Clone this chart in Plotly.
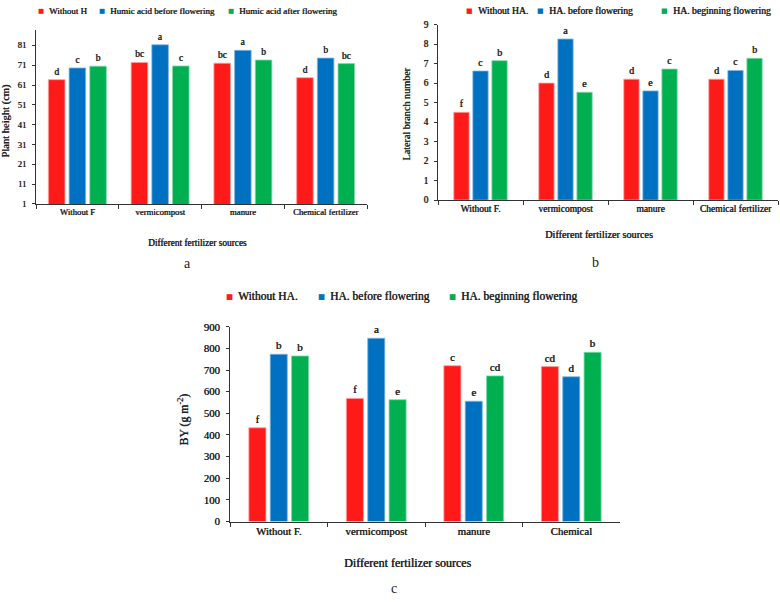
import plotly.graph_objects as go

# ---------------- data ----------------
categories_a = ["Without F", "vermicompost", "manure", "Chemical fertilizer"]
categories_b = ["Without F.", "vermicompost", "manure", "Chemical fertilizer"]
categories_c = ["Without F.", "vermicompost", "manure", "Chemical"]

series_a = ["Without H", "Humic acid before flowering", "Humic acid after flowering"]
series_bc = ["Without HA.", "HA. before flowering", "HA. beginning flowering"]

height_without = [63.7, 72.4, 72.0, 64.7]
height_before = [69.6, 81.3, 78.5, 74.6]
height_after = [70.5, 70.6, 73.6, 71.8]
height_letters = [["d", "bc", "bc", "d"], ["c", "a", "a", "b"], ["b", "c", "b", "bc"]]

branch_without = [4.5, 6.0, 6.2, 6.2]
branch_before = [6.62, 8.26, 5.6, 6.65]
branch_begin = [7.15, 5.53, 6.72, 7.27]
branch_letters = [["f", "d", "d", "d"], ["c", "a", "e", "c"], ["b", "e", "c", "b"]]

by_without = [433, 569, 720, 716]
by_before = [773, 847, 556, 669]
by_begin = [765, 563, 673, 782]
by_letters = [["f", "f", "c", "cd"], ["b", "a", "e", "d"], ["b", "e", "cd", "b"]]

a_ticks = [1, 11, 21, 31, 41, 51, 61, 71, 81]

colors = ["#FF1A1A", "#0070C0", "#00B050"]
edge = ["#FF9C9C", "#7FB5E0", "#7FD8A8"]

FONT = "Liberation Serif, Times New Roman, serif"
INK = "#222"
# heavier strokes for a bold Times look
BOLD_SHADOW = "0.45px 0px 0px #222"
W, H = 780, 602


def px(x):
    return x / W


def py(y):
    return 1 - y / H


def bfont(size, color=INK):
    return dict(family=FONT, size=size, color=color, shadow=BOLD_SHADOW)


fig = go.Figure()

panels = [
    dict(cats=categories_a, vals=[height_without, height_before, height_after],
         letters=height_letters, xa="x", ya="y", slot=0.25, width=0.2, tf=9.5),
    dict(cats=categories_b, vals=[branch_without, branch_before, branch_begin],
         letters=branch_letters, xa="x2", ya="y2", slot=0.224, width=0.18, tf=10),
    dict(cats=categories_c, vals=[by_without, by_before, by_begin],
         letters=by_letters, xa="x3", ya="y3", slot=0.219, width=0.175, tf=11),
]

for p in panels:
    for i in range(3):
        fig.add_trace(go.Bar(
            x=p["cats"], y=p["vals"][i], xaxis=p["xa"], yaxis=p["ya"],
            width=p["width"], offset=(i - 1) * p["slot"] - p["width"] / 2,
            marker=dict(color=colors[i], line=dict(color=edge[i], width=0.8)),
            text=p["letters"][i], textposition="outside", cliponaxis=False,
            constraintext="none", textfont=bfont(p["tf"]),
            showlegend=False, hoverinfo="x+y",
        ))

axis_common = dict(showline=True, linecolor="#333", linewidth=1, ticks="outside",
                   tickcolor="#333", showgrid=False, zeroline=False, fixedrange=True)

fig.update_layout(
    width=W, height=H, margin=dict(l=0, r=0, t=0, b=0),
    paper_bgcolor="white", plot_bgcolor="white", barmode="group",
    xaxis=dict(domain=[px(36), px(367)], anchor="y", tickson="boundaries", ticklen=4,
               tickfont=bfont(8.7), **axis_common),
    yaxis=dict(domain=[py(202), py(24)], anchor="x", range=[1, 89], tickvals=a_ticks, ticklen=3,
               ticklabelstandoff=4, tickfont=bfont(8.7), **axis_common),
    xaxis2=dict(domain=[px(438), px(778)], anchor="y2", tickson="boundaries", ticklen=4,
                tickfont=bfont(9.5), **axis_common),
    yaxis2=dict(domain=[py(198), py(19)], anchor="x2", range=[0, 9], dtick=1, ticklen=3,
                ticklabelstandoff=4, tickfont=bfont(9.3), **axis_common),
    xaxis3=dict(domain=[px(230), px(620)], anchor="y3", tickson="boundaries", ticklen=4,
                tickfont=bfont(10.8), **axis_common),
    yaxis3=dict(domain=[py(526), py(327.3)], anchor="x3", range=[0, 900], dtick=100, ticklen=3,
                ticklabelstandoff=4, tickfont=bfont(10.8), **axis_common),
)

ann = []


def text_ann(x, y, text, size, bold=True, angle=0, xanchor="center", color=INK):
    f = bfont(size, color) if bold else dict(family=FONT, size=size, color=color)
    ann.append(dict(x=px(x), y=py(y), xref="paper", yref="paper", text=text, showarrow=False,
                    xanchor=xanchor, yanchor="middle", textangle=angle, font=f))


def marker_ann(x_right, y, color, size):
    ann.append(dict(x=px(x_right), y=py(y), xref="paper", yref="paper", text="■",
                    showarrow=False, xanchor="right", yanchor="middle",
                    font=dict(family="DejaVu Sans", size=size, color=color)))


# legends (text start x, row y)
legend_specs = [
    (series_a, [46.7, 108.3, 237.3], 5, 9, 6.5),
    (series_bc, [475.7, 546.7, 671], 5, 9.7, 7),
    (series_bc, [236, 328.3, 459.3], 296, 11.5, 7.5),
]
for names, xs, y, size, msize in legend_specs:
    for name, x, c in zip(names, xs, colors):
        marker_ann(x - 1, y + 0.5, c, msize)
        text_ann(x, y, name, size, xanchor="left")

# axis titles
text_ann(197, 242, "Different fertilizer sources", 9.3)
text_ann(599, 233, "Different fertilizer sources", 10.2)
text_ann(407, 568, "Different fertilizer sources", 12)
text_ann(6, 118, "Plant height (cm)", 10.5, angle=-90)
text_ann(407, 111, "Lateral branch number", 10.2, angle=-90)
text_ann(184, 422, "BY (g m<sup>-2</sup>)", 11.8, angle=-90)

# panel letters
text_ann(187, 263, "a", 14, bold=False)
text_ann(595, 262, "b", 14, bold=False)
text_ann(394, 594, "c", 14, bold=False)

fig.update_layout(annotations=ann)
fig.write_html("out.html", config={"displayModeBar": False},
               post_script="document.body.style.margin='0px';")
